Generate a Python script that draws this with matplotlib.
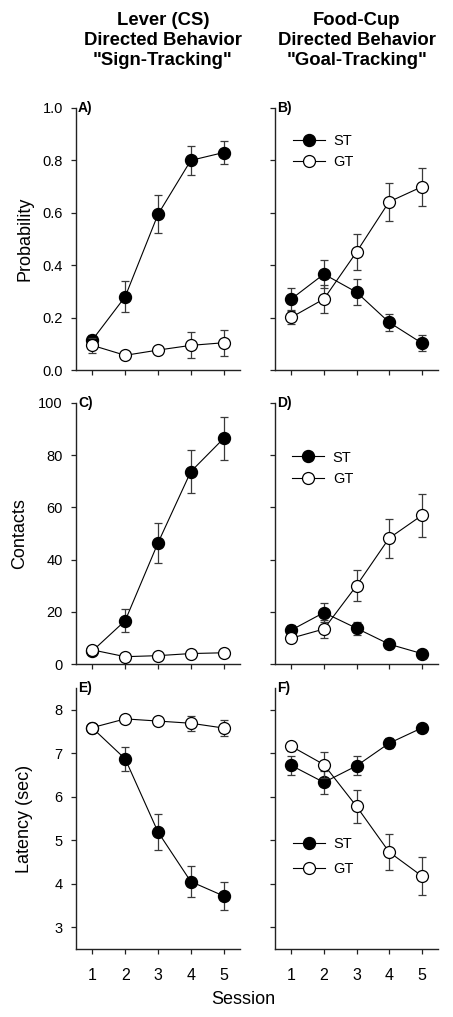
import matplotlib
matplotlib.use('Agg')
import matplotlib.pyplot as plt

plt.rcParams['font.family'] = ['Liberation Sans', 'DejaVu Sans']

sessions = [1, 2, 3, 4, 5]
session_labels = ['1', '2', '3', '4', '5']

# A) Lever probability
a_st = [0.115, 0.28, 0.594, 0.80, 0.83]
a_st_err = [0.02, 0.06, 0.073, 0.054, 0.045]
a_gt = [0.094, 0.056, 0.076, 0.094, 0.104]
a_gt_err = [0.028, 0.01, 0.01, 0.05, 0.049]

# B) Food-cup probability
b_st = [0.271, 0.366, 0.297, 0.182, 0.103]
b_st_err = [0.043, 0.052, 0.049, 0.033, 0.032]
b_gt = [0.201, 0.271, 0.45, 0.642, 0.699]
b_gt_err = [0.025, 0.055, 0.07, 0.073, 0.073]

# C) Lever contacts
c_st = [5.0, 16.6, 46.4, 73.7, 86.4]
c_st_err = [1.0, 4.5, 7.8, 8.2, 8.1]
c_gt = [5.4, 2.8, 3.2, 4.0, 4.3]
c_gt_err = [1.0, 0.4, 0.4, 0.5, 0.5]

# D) Food-cup contacts
d_st = [13.0, 19.7, 13.7, 7.6, 4.0]
d_st_err = [2.0, 3.5, 2.5, 1.0, 1.0]
d_gt = [9.9, 13.4, 30.0, 48.2, 56.9]
d_gt_err = [1.5, 3.5, 6.0, 7.4, 8.4]

# E) Lever latency
e_st = [7.58, 6.87, 5.19, 4.05, 3.72]
e_st_err = [0.08, 0.27, 0.41, 0.36, 0.32]
e_gt = [7.59, 7.79, 7.74, 7.69, 7.58]
e_gt_err = [0.05, 0.05, 0.05, 0.17, 0.18]

# F) Food-cup latency
f_st = [6.72, 6.33, 6.71, 7.23, 7.58]
f_st_err = [0.22, 0.27, 0.22, 0.12, 0.08]
f_gt = [7.16, 6.74, 5.78, 4.73, 4.18]
f_gt_err = [0.1, 0.3, 0.38, 0.41, 0.43]

W, H = 453, 1017
fig = plt.figure(figsize=(W / 100, H / 100), dpi=100)

cols = [(76, 240), (275, 438)]
rows = [(108, 370), (403, 664), (688, 949)]


def make_ax(r, c):
    x0, x1 = cols[c]
    y0, y1 = rows[r]
    return fig.add_axes([x0 / W, 1 - y1 / H, (x1 - x0) / W, (y1 - y0) / H])


panels = [
    (0, 0, 'A)', a_st, a_st_err, a_gt, a_gt_err, (0, 1.0), [0, 0.2, 0.4, 0.6, 0.8, 1.0],
     ['0.0', '0.2', '0.4', '0.6', '0.8', '1.0'], 'Probability', -0.262, None, 0.5),
    (0, 1, 'B)', b_st, b_st_err, b_gt, b_gt_err, (0, 1.0), [0, 0.2, 0.4, 0.6, 0.8, 1.0],
     None, None, None, (0.109, 0.90), 0.5),
    (1, 0, 'C)', c_st, c_st_err, c_gt, c_gt_err, (0, 100), [0, 20, 40, 60, 80, 100],
     ['0', '20', '40', '60', '80', '100'], 'Contacts', -0.289, None, 0.5),
    (1, 1, 'D)', d_st, d_st_err, d_gt, d_gt_err, (0, 100), [0, 20, 40, 60, 80, 100],
     None, None, None, (0.104, 0.818), 0.5),
    (2, 0, 'E)', e_st, e_st_err, e_gt, e_gt_err, (2.5, 8.5), [3, 4, 5, 6, 7, 8],
     ['3', '4', '5', '6', '7', '8'], 'Latency (sec)', -0.262, None, 0.5),
    (2, 1, 'F)', f_st, f_st_err, f_gt, f_gt_err, (2.5, 8.5), [3, 4, 5, 6, 7, 8],
     None, None, None, (0.109, 0.428), 0.72),
]

ecol = '#3a3a3a'
for (r, c, lab, st, st_e, gt, gt_e, ylim, yticks, yticklabels, ylabel, ylx, leg, lsp) in panels:
    ax = make_ax(r, c)
    st_c = ax.errorbar(sessions, st, yerr=st_e, fmt='o-', color='black', mfc='black',
                       mec='black', ms=8.6, lw=0.8, ecolor=ecol, elinewidth=0.9,
                       capsize=3.2, capthick=0.9, zorder=3)
    gt_c = ax.errorbar(sessions, gt, yerr=gt_e, fmt='o-', color='black', mfc='white',
                       mec='black', mew=0.9, ms=8.6, lw=0.8, ecolor=ecol, elinewidth=0.9,
                       capsize=3.2, capthick=0.9, zorder=4)
    ax.set_xlim(0.5, 5.5)
    ax.set_ylim(*ylim)
    ax.set_xticks(sessions)
    ax.set_yticks(yticks)
    for s in ['top', 'right']:
        ax.spines[s].set_visible(False)
    for s in ['left', 'bottom']:
        ax.spines[s].set_linewidth(1.0)
        ax.spines[s].set_color('#222222')
    ax.tick_params(axis='both', direction='out', length=3.5, width=0.9, color='#222222')
    ax.tick_params(axis='y', labelsize=10.5, pad=6)
    ax.tick_params(axis='x', labelsize=11.5, pad=10)
    if yticklabels is None:
        ax.set_yticklabels([])
    else:
        ax.set_yticklabels(yticklabels)
    if r < 2:
        ax.set_xticklabels([])
    else:
        ax.set_xticklabels(session_labels)
    if ylabel:
        ax.set_ylabel(ylabel, fontsize=13)
        ax.yaxis.set_label_coords(ylx, 0.5)
    ax.text(0.012, 1.0, lab, transform=ax.transAxes, fontsize=10, fontweight='bold',
            ha='left', va='center')
    if leg is not None:
        ax.legend(handles=[st_c.lines[0], gt_c.lines[0]], labels=['ST', 'GT'],
                  loc='upper left', bbox_to_anchor=leg, frameon=False, fontsize=10.5,
                  handlelength=2.2, handletextpad=0.6, labelspacing=lsp,
                  borderpad=0, borderaxespad=0)

title_kw = dict(ha='center', va='top', fontsize=13.3, fontweight='bold', linespacing=1.22)
fig.text(163 / W, 1 - 12 / H, 'Lever (CS)\nDirected Behavior\n"Sign-Tracking"', **title_kw)
fig.text(357 / W, 1 - 12 / H, 'Food-Cup\nDirected Behavior\n"Goal-Tracking"', **title_kw)
fig.text(243.5 / W, 1 - 1000 / H, 'Session', ha='center', va='center', fontsize=13)

fig.savefig('out.png', dpi=100)
